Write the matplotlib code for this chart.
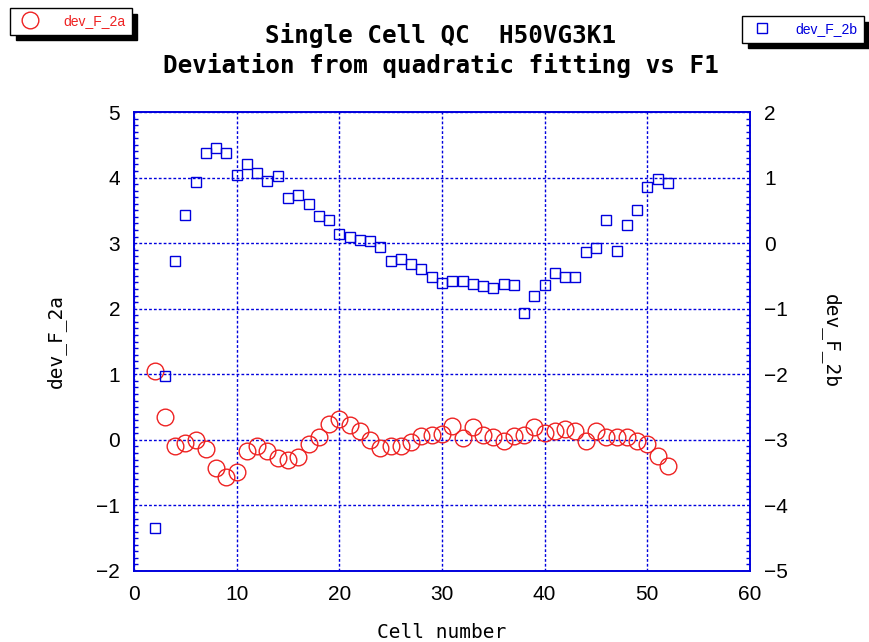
import matplotlib
matplotlib.use("Agg")
import matplotlib.pyplot as plt
from matplotlib.lines import Line2D

# cell index
cells = list(range(2, 53))

# deviation from quadratic fit, series a (left axis)
dev_F_2a = [1.05, 0.35, -0.09, -0.05, 0.00, -0.14, -0.43, -0.57, -0.49, -0.17,
            -0.09, -0.17, -0.28, -0.31, -0.26, -0.06, 0.04, 0.24, 0.32, 0.23,
            0.14, 0.00, -0.12, -0.10, -0.10, -0.03, 0.06, 0.08, 0.09, 0.21,
            0.03, 0.19, 0.08, 0.04, -0.01, 0.06, 0.07, 0.20, 0.11, 0.14,
            0.17, 0.13, -0.01, 0.14, 0.05, 0.05, 0.04, -0.01, -0.06, -0.25,
            -0.40]

# deviation from quadratic fit, series b (right axis)
dev_F_2b = [-4.35, -2.02, -0.27, 0.43, 0.93, 1.37, 1.45, 1.37, 1.04, 1.21,
            1.07, 0.95, 1.02, 0.69, 0.73, 0.60, 0.41, 0.35, 0.14, 0.10,
            0.05, 0.04, -0.06, -0.27, -0.24, -0.32, -0.39, -0.52, -0.61, -0.58,
            -0.58, -0.63, -0.65, -0.68, -0.63, -0.64, -1.07, -0.81, -0.64, -0.45,
            -0.51, -0.51, -0.14, -0.07, 0.35, -0.12, 0.27, 0.51, 0.86, 0.98,
            0.91]

BLUE = "#0000dd"
RED = "#ee2222"
tick_font = ["Liberation Sans Narrow", "Liberation Sans", "DejaVu Sans"]
mono_font = ["DejaVu Sans Mono"]

fig = plt.figure(figsize=(8.7, 6.42), dpi=100)
ax = fig.add_axes([134/870, 1-571/642, 616/870, 459/642])
ax2 = ax.twinx()

ax.plot(cells, dev_F_2a, linestyle="none", marker="o", markersize=12,
        markerfacecolor="none", markeredgecolor=RED, markeredgewidth=1.0, zorder=3)
ax2.plot(cells, dev_F_2b, linestyle="none", marker="s", markersize=7.5,
         markerfacecolor="none", markeredgecolor=BLUE, markeredgewidth=1.0, zorder=3)

ax.set_xlim(0, 60)
ax.set_ylim(-2, 5)
ax2.set_ylim(-5, 2)
ax.set_xticks(range(0, 61, 10))
ax.set_yticks(range(-2, 6))
ax2.set_yticks(range(-5, 3))

ax.grid(True, color=BLUE, linestyle=(0, (2, 1.5)), linewidth=1.0)

for a in (ax, ax2):
    for s in a.spines.values():
        s.set_color(BLUE)
        s.set_linewidth(1.2)
    a.tick_params(direction="in", color=BLUE, length=0, labelsize=15,
                  labelcolor="black", pad=10)
    a.minorticks_on()
    a.tick_params(which="minor", direction="in", color=BLUE, length=3, width=1)
    for lab in a.get_xticklabels() + a.get_yticklabels():
        lab.set_family(tick_font)
ax.xaxis.set_minor_locator(matplotlib.ticker.MultipleLocator(1))
ax.yaxis.set_minor_locator(matplotlib.ticker.MultipleLocator(0.1))
ax2.yaxis.set_minor_locator(matplotlib.ticker.MultipleLocator(0.1))
ax2.xaxis.set_minor_locator(matplotlib.ticker.NullLocator())

ax.set_xlabel("Cell number", fontsize=14, family=mono_font, labelpad=14)
ax.set_ylabel("dev_F_2a", fontsize=14, family=mono_font, labelpad=22)
ax2.set_ylabel("dev_F_2b", fontsize=14, family=mono_font, rotation=270,
               labelpad=38)

fig.text(441/870, 1-36/642, "Single Cell QC  H50VG3K1", ha="center", va="center",
         fontsize=17.5, family=mono_font, fontweight="semibold")
fig.text(441/870, 1-66/642, "Deviation from quadratic fitting vs F1", ha="center",
         va="center", fontsize=17.5, family=mono_font, fontweight="semibold")

# legend boxes in the top corners
h_a = Line2D([], [], linestyle="none", marker="o", markersize=12,
             markerfacecolor="none", markeredgecolor=RED)
h_b = Line2D([], [], linestyle="none", marker="s", markersize=7.5,
             markerfacecolor="none", markeredgecolor=BLUE)
legend_style = dict(fancybox=False, shadow={"ox": 4, "oy": -4, "color": "black", "alpha": 1},
                    framealpha=1, edgecolor="black",
                    prop={"family": tick_font, "size": 10}, borderpad=0.45,
                    handletextpad=1.4, borderaxespad=0)
leg_a = fig.legend([h_a], ["dev_F_2a"], loc="upper left",
                   bbox_to_anchor=(10/870, 1-8/642), labelcolor=RED, **legend_style)
leg_b = fig.legend([h_b], ["dev_F_2b"], loc="upper right",
                   bbox_to_anchor=(864/870, 1-16/642), labelcolor=BLUE, **legend_style)

fig.savefig("out.png", dpi=100)
